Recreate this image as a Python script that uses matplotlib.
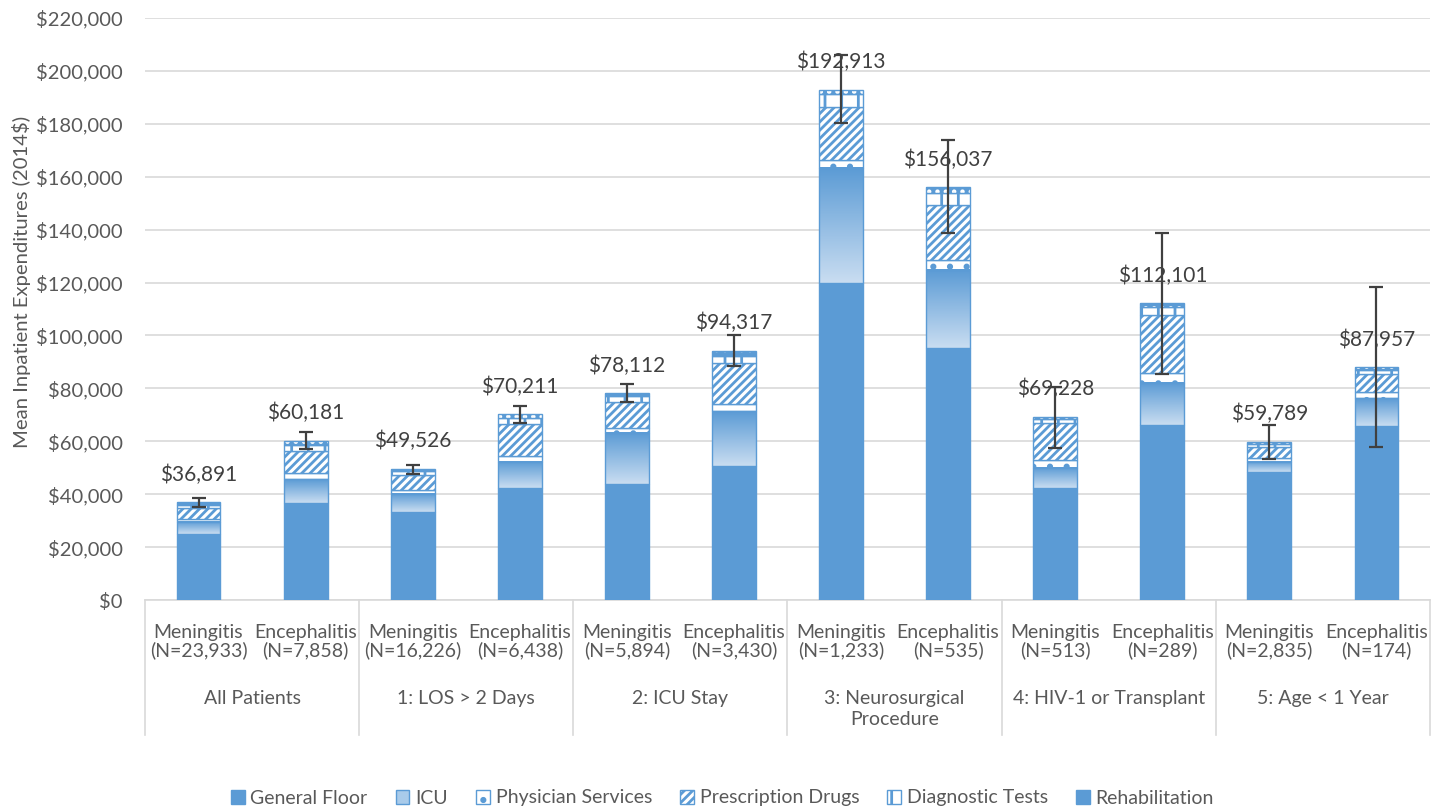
import matplotlib
matplotlib.use("Agg")
import matplotlib.pyplot as plt
import matplotlib.transforms as mtransforms
from matplotlib.patches import Patch
from matplotlib.lines import Line2D
from matplotlib.ticker import FuncFormatter, MultipleLocator
import numpy as np

plt.rcParams['font.family'] = ['Lato', 'DejaVu Sans']
plt.rcParams['hatch.linewidth'] = 2.0

# ---------------- data ----------------
diseases = ["Meningitis", "Encephalitis"] * 6
n_labels = ["(N=23,933)", "(N=7,858)", "(N=16,226)", "(N=6,438)", "(N=5,894)", "(N=3,430)",
            "(N=1,233)", "(N=535)", "(N=513)", "(N=289)", "(N=2,835)", "(N=174)"]
groups = ["All Patients", "1: LOS > 2 Days", "2: ICU Stay", "3: Neurosurgical\nProcedure",
          "4: HIV-1 or Transplant", "5: Age < 1 Year"]

general_floor = [25000, 36600, 33200, 42300, 43700, 50800, 119700, 95100, 42200, 66200, 48500, 65800]
icu           = [4600, 9000, 6900, 10000, 19300, 20700, 43500, 29700, 7600, 16000, 3800, 10500]
physician     = [1000, 2500, 1300, 2000, 2000, 2700, 3200, 3700, 3100, 3500, 1300, 2500]
prescription  = [4200, 8300, 5800, 12400, 10000, 15300, 19900, 20800, 13900, 22100, 4400, 6500]
diagnostic    = [1200, 2200, 1400, 2200, 2000, 2800, 5100, 4500, 1500, 3100, 1100, 1600]
rehab         = [900, 1600, 900, 1300, 1100, 2000, 1500, 2200, 900, 1200, 700, 1100]

totals   = [36891, 60181, 49526, 70211, 78112, 94317, 192913, 156037, 69228, 112101, 59789, 87957]
ci_low   = [35300, 57100, 47500, 67000, 74700, 88600, 180200, 138600, 57400, 85300, 53200, 58000]
ci_high  = [38400, 63400, 51000, 73500, 81500, 100200, 206000, 173900, 80400, 138900, 66200, 118200]

legend_labels = ["General Floor", "ICU", "Physician Services", "Prescription Drugs",
                 "Diagnostic Tests", "Rehabilitation"]

# ---------------- style ----------------
BLUE = "#5B9BD5"
LIGHT = "#C9DDF1"
TXT = "#595959"
GRID = "#D9D9D9"

fig = plt.figure(figsize=(14.45, 8.09), dpi=100)
ax = fig.add_axes([145/1445, 1-600/809, (1430-145)/1445, (600-18)/809])

x = np.arange(len(totals))
w = 0.41

gf = np.array(general_floor, float)
ic = np.array(icu, float)
ph = np.array(physician, float)
rx = np.array(prescription, float)
dg = np.array(diagnostic, float)
rh = np.array(rehab, float)

b0 = np.zeros_like(gf)
ax.bar(x, gf, w, bottom=b0, color=BLUE, edgecolor=BLUE, linewidth=1, zorder=3)
b1 = b0 + gf
ax.bar(x, ic, w, bottom=b1, facecolor="none", edgecolor=BLUE, linewidth=1, zorder=4)
grad = np.linspace(0, 1, 100).reshape(-1, 1)
cmap = matplotlib.colors.LinearSegmentedColormap.from_list("icu", [LIGHT, BLUE])
for xi, bot, h in zip(x, b1, ic):
    ax.imshow(grad, extent=[xi - w/2, xi + w/2, bot, bot + h], origin="lower",
              aspect="auto", cmap=cmap, zorder=3.5, interpolation="bilinear")
b2 = b1 + ic
ax.bar(x, ph, w, bottom=b2, color="white", edgecolor=BLUE, linewidth=1, hatch=".", zorder=3)
b3 = b2 + ph
ax.bar(x, rx, w, bottom=b3, color="white", edgecolor=BLUE, linewidth=1, hatch="////", zorder=3)
b4 = b3 + rx
ax.bar(x, dg, w, bottom=b4, color="white", edgecolor=BLUE, linewidth=1, hatch="|", zorder=3)
b5 = b4 + dg
ax.bar(x, rh, w, bottom=b5, color=BLUE, edgecolor="white", linewidth=0, hatch="..", zorder=3)
ax.bar(x, rh, w, bottom=b5, facecolor="none", edgecolor=BLUE, linewidth=1, zorder=3.2)

tot = np.array(totals, float)
yerr = np.vstack([tot - np.array(ci_low), np.array(ci_high) - tot])
ax.errorbar(x, tot, yerr=yerr, fmt="none", ecolor="#404040", elinewidth=1.6,
            capsize=5, capthick=1.6, zorder=6)

for xi, t in zip(x, totals):
    ax.annotate(f"\\${t:,.0f}", (xi, t), xytext=(0, 20), textcoords="offset points",
                ha="center", va="center", fontsize=15, color="#404040", zorder=7)

ax.set_xlim(-0.5, len(totals) - 0.5)
ax.set_ylim(0, 220000)
ax.yaxis.set_major_locator(MultipleLocator(20000))
ax.yaxis.set_major_formatter(FuncFormatter(lambda v, p: f"\\${v:,.0f}"))
ax.tick_params(axis="y", length=0, labelsize=14.5, labelcolor=TXT, pad=16)
ax.tick_params(axis="x", length=0, labelbottom=False)
ax.grid(axis="y", color=GRID, linewidth=1.2, zorder=0)
ax.set_axisbelow(True)
for s in ["top", "right", "left"]:
    ax.spines[s].set_visible(False)
ax.spines["bottom"].set_color(GRID)
ax.spines["bottom"].set_linewidth(1.2)

ax.set_ylabel("Mean Inpatient Expenditures (2014\\$)", fontsize=14.6, color=TXT)
ax.yaxis.set_label_coords((31 - 145) / (1430 - 145), (600 - 282) / 582)

trans = mtransforms.blended_transform_factory(ax.transData, fig.transFigure)
for xi, d, n in zip(x, diseases, n_labels):
    ax.text(xi, 1 - 641.5/809, f"{d}\n{n}", transform=trans, ha="center", va="center",
            fontsize=14, color=TXT, linespacing=1.0, clip_on=False)
for gi, g in enumerate(groups):
    ax.text(2*gi + 0.5, 1 - 690/809, g, transform=trans, ha="center", va="top",
            fontsize=14, color=TXT, linespacing=1.3, clip_on=False)
for bx in np.arange(-0.5, len(totals), 2):
    ax.add_line(Line2D([bx, bx], [1 - 600/809, 1 - 735/809], transform=trans,
                       color=GRID, linewidth=1.2, clip_on=False))

handles = [
    Patch(facecolor=BLUE, edgecolor=BLUE),
    Patch(facecolor="#A9CBEA", edgecolor=BLUE),
    Patch(facecolor="white", edgecolor=BLUE, hatch="."),
    Patch(facecolor="white", edgecolor=BLUE, hatch="////"),
    Patch(facecolor="white", edgecolor=BLUE, hatch="|"),
    Patch(facecolor=BLUE, edgecolor=BLUE),
]
leg = fig.legend(handles, legend_labels, loc="center", bbox_to_anchor=(0.5, 1 - 798/809),
                 ncol=6, frameon=False, fontsize=14, handlelength=0.7, handleheight=0.7,
                 handletextpad=0.3, columnspacing=1.45, labelcolor=TXT)

fig.savefig("out.png", dpi=100)
